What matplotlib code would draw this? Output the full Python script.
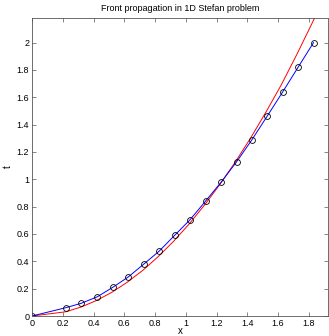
import matplotlib
matplotlib.use('Agg')
import matplotlib.pyplot as plt

# numerical front positions (blue, with markers)
x_num = [0, 0.22, 0.32, 0.425, 0.525, 0.625, 0.727, 0.827, 0.927, 1.027,
         1.128, 1.23, 1.33, 1.43, 1.53, 1.63, 1.73, 1.83]
t_num = [0, 0.061, 0.093, 0.141, 0.21, 0.285, 0.38, 0.475, 0.59, 0.704,
         0.84, 0.98, 1.128, 1.29, 1.464, 1.64, 1.82, 2.0]

# analytic front (red)
x_ex = [0, 0.22, 0.32, 0.42, 0.52, 0.62, 0.72, 0.82, 0.92, 1.02,
        1.12, 1.22, 1.32, 1.42, 1.52, 1.62, 1.72, 1.82, 1.92]
t_ex = [0, 0.031, 0.066, 0.114, 0.174, 0.248, 0.334, 0.434, 0.546, 0.671,
        0.81, 0.96, 1.124, 1.30, 1.49, 1.69, 1.91, 2.14, 2.38]

xticks = [0, 0.2, 0.4, 0.6, 0.8, 1, 1.2, 1.4, 1.6, 1.8]
yticks = [0, 0.2, 0.4, 0.6, 0.8, 1, 1.2, 1.4, 1.6, 1.8, 2]

plt.rcParams['font.family'] = ['Liberation Sans', 'DejaVu Sans']

fig = plt.figure(figsize=(3.29, 3.36), dpi=100)
ax = fig.add_axes([0.0973, 0.0595, 0.901, 0.887])

ax.plot(x_ex, t_ex, color='red', lw=0.7)
ax.plot(x_num, t_num, color='blue', lw=0.7, marker='o', ms=4.2,
        mfc='none', mec='black', mew=0.6)

ax.set_xlim(0, 1.927)
ax.set_ylim(0, 2.18)
ax.set_xticks(xticks)
ax.set_yticks(yticks)
ax.set_xticklabels([f'{v:g}' for v in xticks])
ax.set_yticklabels([f'{v:g}' for v in yticks])
ax.tick_params(direction='in', top=True, right=True, labelsize=6.5,
               length=3, width=0.5, color='#555555', pad=2)
for s in ax.spines.values():
    s.set_color('#555555')
    s.set_linewidth(0.6)

ax.set_title('Front propagation in 1D Stefan problem', fontsize=6.5, pad=5)
ax.set_xlabel('x', fontsize=7, labelpad=-1)
ax.set_ylabel('t', fontsize=7, labelpad=3)

fig.savefig('out.png', dpi=100)
